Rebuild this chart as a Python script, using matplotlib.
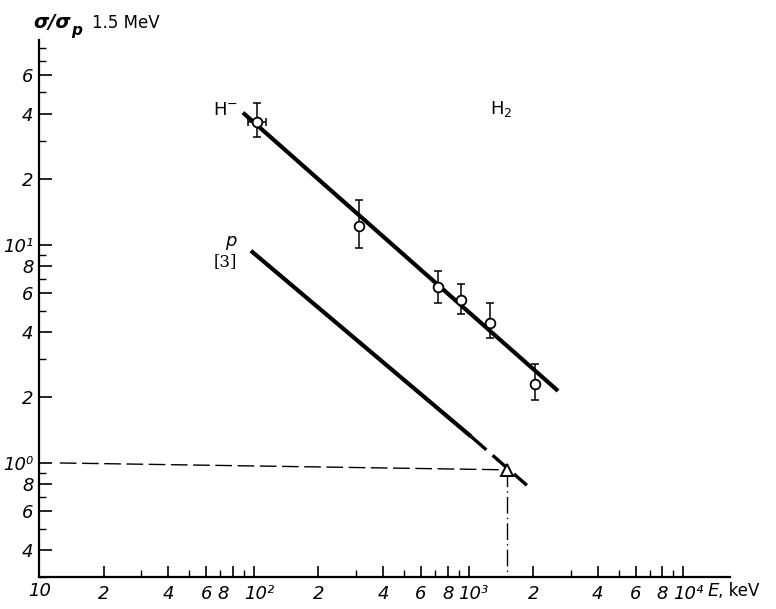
import matplotlib
matplotlib.use("Agg")
import matplotlib.pyplot as plt
from matplotlib.ticker import FixedLocator, FixedFormatter, NullFormatter
from matplotlib.transforms import ScaledTranslation

# ---- data ----
E_hminus = [103, 308, 718, 918, 1253, 2050]
R_hminus = [36.6, 12.2, 6.4, 5.6, 4.4, 2.3]
R_hminus_hi = [44.8, 16.1, 7.6, 6.6, 5.4, 2.85]
R_hminus_lo = [31.3, 9.7, 5.4, 4.8, 3.75, 1.95]
E_first_lo, E_first_hi = 94, 114

fit_hminus_E = [89, 2610]
fit_hminus_R = [40.4, 2.14]

p_solid_E = [97, 1030]
p_solid_R = [9.4, 1.32]
p_dash_E = [1030, 1870]
p_dash_R = [1.32, 0.79]

tri_E = [1510]
tri_R = [0.93]

ref_h_E = [12.5, 1510]
ref_h_R = [1.0, 0.93]

x_major = [20, 40, 60, 80, 100, 200, 400, 600, 800, 1000, 2000, 4000, 6000, 8000, 10000]
x_labels = ["2", "4", "6", "8", "10²", "2", "4", "6", "8", "10³", "2", "4", "6", "8", "10⁴"]
x_minor = [30, 50, 70, 90, 300, 500, 700, 900, 3000, 5000, 7000, 9000]

y_major = [0.4, 0.6, 0.8, 1, 2, 4, 6, 8, 10, 20, 40, 60]
y_labels = ["4", "6", "8", "10⁰", "2", "4", "6", "8", "10¹", "2", "4", "6"]
y_minor = [0.3, 0.5, 0.7, 0.9, 3, 5, 7, 9, 30, 50, 70, 80]

# ---- figure ----
W, H = 776, 609
fig = plt.figure(figsize=(W / 100, H / 100), dpi=100)
ax = fig.add_axes([39 / W, 32 / H, (730 - 39) / W, (577 - 40) / H])
ax.set_xscale("log")
ax.set_yscale("log")
ax.set_xlim(10, 16500)
ax.set_ylim(0.30, 87)

for s in ("top", "right"):
    ax.spines[s].set_visible(False)
for s in ("left", "bottom"):
    ax.spines[s].set_linewidth(1.6)

tick_font = dict(family="DejaVu Sans", style="italic", size=13)

ax.xaxis.set_major_locator(FixedLocator(x_major))
ax.xaxis.set_major_formatter(FixedFormatter(x_labels))
ax.xaxis.set_minor_locator(FixedLocator(x_minor))
ax.xaxis.set_minor_formatter(NullFormatter())
ax.yaxis.set_major_locator(FixedLocator(y_major))
ax.yaxis.set_major_formatter(FixedFormatter(y_labels))
ax.yaxis.set_minor_locator(FixedLocator(y_minor))
ax.yaxis.set_minor_formatter(NullFormatter())

ax.tick_params(which="major", direction="in", length=8, width=1.2, pad=6)
ax.tick_params(which="minor", direction="in", length=5, width=1.0)
ax.tick_params(axis="y", which="major", length=9, pad=4)
for lab in ax.get_xticklabels() + ax.get_yticklabels():
    lab.set_fontfamily(tick_font["family"])
    lab.set_fontstyle(tick_font["style"])
    lab.set_fontsize(tick_font["size"])

# shift decade labels on x so they start just left of the tick
xl = ax.get_xticklabels()
for i, t in enumerate(x_labels):
    if t.startswith("10"):
        xl[i].set_horizontalalignment("left")
        xl[i].set_transform(xl[i].get_transform() + ScaledTranslation(-10 / 100, 0, fig.dpi_scale_trans))
xl[3].set_transform(xl[3].get_transform() + ScaledTranslation(-10 / 100, 0, fig.dpi_scale_trans))

# "10" at the origin of x axis
fig.text(40 / W, 1 - 591 / H, "10", ha="center", va="center", **tick_font)

# ---- lines ----
ax.plot(fit_hminus_E, fit_hminus_R, color="black", lw=3.0, solid_capstyle="butt")
ax.plot(p_solid_E, p_solid_R, color="black", lw=3.0, solid_capstyle="butt")
ax.plot(p_dash_E, p_dash_R, color="black", lw=2.4, dashes=(6, 2.5))
ax.plot(ref_h_E, ref_h_R, color="black", lw=1.0, dashes=(12, 4))
ax.plot([tri_E[0], tri_E[0]], [tri_R[0], 0.30], color="black", lw=1.0,
        dashes=(12, 3, 1, 3))

# ---- data points ----
yerr = [[r - lo for r, lo in zip(R_hminus, R_hminus_lo)],
        [hi - r for r, hi in zip(R_hminus, R_hminus_hi)]]
ax.errorbar(E_hminus, R_hminus, yerr=yerr, fmt="none", ecolor="black",
            elinewidth=1.1, capsize=3, capthick=1.1, zorder=4)
ax.errorbar([E_hminus[0]], [R_hminus[0]],
            xerr=[[E_hminus[0] - E_first_lo], [E_first_hi - E_hminus[0]]],
            fmt="none", ecolor="black", elinewidth=1.1, capsize=3, capthick=1.1, zorder=4)
ax.plot(E_hminus, R_hminus, "o", ms=7, mfc="white", mec="black", mew=1.3, zorder=5)
ax.plot(tri_E, tri_R, "^", ms=9, mfc="white", mec="black", mew=1.4, zorder=5)

# ---- annotations ----
def ftext(x, y, s, **kw):
    fig.text(x / W, 1 - y / H, s, **kw)

ftext(213, 110, "H$^{-}$", fontsize=13, ha="left", va="center", family="DejaVu Sans")
ftext(490, 109, "H$_2$", fontsize=13, ha="left", va="center", family="DejaVu Sans")
ftext(225, 241, "p", fontsize=13, ha="left", va="center", style="italic", family="DejaVu Sans")
ftext(214, 262, "[3]", fontsize=12, ha="left", va="center", family="DejaVu Serif")

ftext(33, 22, "σ/σ", fontsize=14, ha="left", va="center", weight="bold", style="italic",
      family="DejaVu Sans")
ftext(71, 31, "p", fontsize=11, ha="left", va="center", weight="bold", style="italic",
      family="DejaVu Sans")
ftext(92, 23, "1.5 MeV", fontsize=12, ha="left", va="center", family="DejaVu Sans")

ftext(708, 591, "E", fontsize=13, ha="left", va="center", style="italic", family="DejaVu Sans")
ftext(718, 591, ", keV", fontsize=12, ha="left", va="center", family="DejaVu Sans")

fig.savefig("out.png", dpi=100)
